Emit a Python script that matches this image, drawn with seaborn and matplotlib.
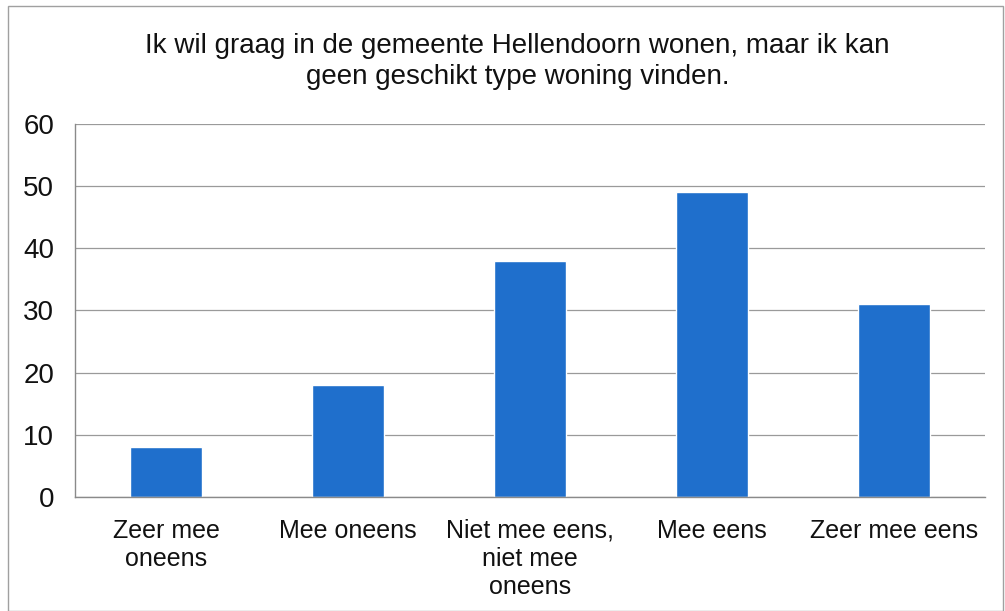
import numpy as np
import pandas as pd
import matplotlib
matplotlib.use('Agg')
import matplotlib.pyplot as plt
import seaborn as sns
from matplotlib.patches import Rectangle

# data
categories = ['Zeer mee\noneens', 'Mee oneens', 'Niet mee eens,\nniet mee\noneens',
              'Mee eens', 'Zeer mee eens']
values = [8, 18, 38, 49, 31]
title = 'Ik wil graag in de gemeente Hellendoorn wonen, maar ik kan\ngeen geschikt type woning vinden.'

df = pd.DataFrame({'cat': categories, 'n': values})

sns.set_style('white')
plt.rcParams['font.family'] = ['Liberation Sans', 'DejaVu Sans']

fig = plt.figure(figsize=(10.05, 6.11), dpi=100)
ax = fig.add_axes([0.0746, 0.187, 0.9055, 0.610])

sns.barplot(data=df, x='cat', y='n', color='#1f6fcc', saturation=1,
            width=0.40, ax=ax)

ax.set_ylim(0, 60)
ax.set_yticks(np.arange(0, 61, 10))
ax.set_xlim(-0.5, len(categories) - 0.5)
ax.yaxis.grid(True, color='#9a9a9a', lw=0.9)
ax.set_axisbelow(True)
for s in ['top', 'right']:
    ax.spines[s].set_visible(False)
for s in ['left', 'bottom']:
    ax.spines[s].set_color('#8a8a8a')
    ax.spines[s].set_linewidth(1)

# ticks between the categories on x
ax.set_xticks(np.arange(len(categories)))
ax.set_xticklabels(categories, fontsize=18, linespacing=1.2, color='#111111')
ax.set_xticks(np.arange(-0.5, len(categories)), minor=True)
ax.tick_params(axis='x', which='major', length=0, pad=16)
ax.tick_params(axis='x', which='minor', length=8, color='#8a8a8a', width=1)
ax.tick_params(axis='y', length=8, color='#8a8a8a', width=1, labelsize=20,
               pad=7, labelcolor='#111111')
ax.set_xlabel('')
ax.set_ylabel('')

fig.text(0.515, 0.899, title, ha='center', va='center', fontsize=20,
         linespacing=1.25, color='#111111')

# thin frame round the chart area
fig.patches.append(Rectangle((0.008, 0.0), 0.99, 0.99, transform=fig.transFigure,
                             fill=False, edgecolor='#a0a0a0', lw=1))

fig.savefig('out.png', dpi=100)
